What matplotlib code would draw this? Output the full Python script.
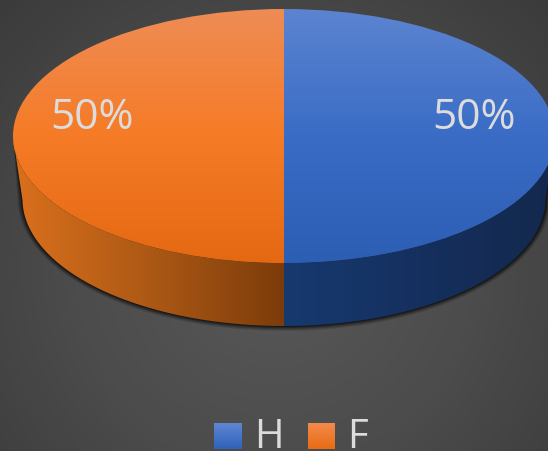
import matplotlib
matplotlib.use("Agg")
import matplotlib.pyplot as plt
from matplotlib.colors import LinearSegmentedColormap
from matplotlib.patches import Polygon, Rectangle
import numpy as np

plt.rcParams['font.family'] = ['Open Sans', 'DejaVu Sans']

categories = ["H", "F"]
shares = [50, 50]

W, H = 548, 452
# pie geometry in pixels
cx, cy, rx, ry, depth = 284, 137, 271, 127, 63
# the lower rim is a bit narrower than the top
rim = 0.965
text_col = "#dcdcdc"

top_colors = [["#5c84d0", "#3a6cc6", "#2c5eb4"], ["#ee8c55", "#f67b26", "#e56913"]]
wall_colors = [["#17396f", "#15305f", "#13284c"], ["#da701d", "#ad5915", "#7c3c0a"]]
legend_colors = [["#5f86d2", "#2f62ba"], ["#f28a4c", "#e96c14"]]

fig = plt.figure(figsize=(W / 100, H / 100), dpi=100)

# background
bg = fig.add_axes([0, 0, 1, 1])
bg.axis("off")
yy, xx = np.mgrid[0:H, 0:W]
dist = np.hypot((xx - 274) / 274, (yy - 270) / 270)
bg_cmap = LinearSegmentedColormap.from_list("bg", ["#585858", "#4c4c4c", "#3a3a3a"])
bg.imshow(dist, cmap=bg_cmap, vmin=0, vmax=1.45, aspect="auto")

# unit circle squashed to the ellipse, axes covers the whole figure
ax = fig.add_axes([0, 0, 1, 1])
ax.patch.set_alpha(0)
wedges, _ = ax.pie(shares, startangle=90, counterclock=False, radius=1, center=(0, 0),
                   wedgeprops={"facecolor": "none", "edgecolor": "none"})
ax.set_aspect("auto")
ax.axis("off")
d = depth / ry
extent = [-cx / rx, (W - cx) / rx, (cy - H) / ry, cy / ry]


def wall_shape(w, grow=0):
    t = np.radians(np.linspace(w.theta1, w.theta2, 200))
    t = t[np.sin(t) <= 0]
    x, y = np.cos(t), np.sin(t)
    low_x = x * (rim + grow / rx)
    low_y = y * (1 + grow / ry) - d
    return np.r_[x, low_x[::-1]], np.r_[y, low_y[::-1]]


# soft shadow under the side
for grow, a in [(5, 0.10), (4, 0.14), (3, 0.18), (2, 0.25), (1, 0.35)]:
    for w in wedges:
        px, py = wall_shape(w, grow)
        ax.add_patch(Polygon(np.c_[px, py], closed=True,
                             fc="black", ec="none", alpha=a, zorder=1))

for i, w in enumerate(wedges):
    # side wall, shaded left to right
    px, py = wall_shape(w)
    wall = Polygon(np.c_[px, py], closed=True, fc="none", ec="none", zorder=2)
    ax.add_patch(wall)
    cmap = LinearSegmentedColormap.from_list("wall%d" % i, wall_colors[i])
    grad = np.linspace(0, 1, 256)[None, :]
    im = ax.imshow(grad, cmap=cmap, aspect="auto", zorder=2,
                   extent=[px.min(), px.max(), py.min(), py.max()])
    im.set_clip_path(wall)

    # top face, shaded top to bottom
    w.set_zorder(3)
    cmap = LinearSegmentedColormap.from_list("top%d" % i, top_colors[i])
    grad = np.linspace(0, 1, 256)[:, None]
    im = ax.imshow(grad, cmap=cmap, aspect="auto", zorder=3, extent=[-1, 1, -1, 1])
    im.set_clip_path(w)

ax.set_xlim(extent[0], extent[1])
ax.set_ylim(extent[2], extent[3])

# percent labels
for x, share in zip([0.70, -0.71], shares):
    ax.text(x, 0.148, "%d%%" % share, color=text_col, fontsize=30.5,
            ha="center", va="center", zorder=5)

# legend
leg = fig.add_axes([0, 0, 1, 1])
leg.axis("off")
leg.patch.set_alpha(0)
for i, (name, x0, w0, tx) in enumerate(zip(categories, [214, 308], [28, 27], [254, 347])):
    r = Rectangle((x0, 424), w0, 26, fc="none", ec="none")
    leg.add_patch(r)
    cmap = LinearSegmentedColormap.from_list("leg%d" % i, legend_colors[i])
    im = leg.imshow(np.linspace(0, 1, 64)[:, None], cmap=cmap, aspect="auto",
                    extent=[x0, x0 + w0, 450, 424])
    leg.text(tx, 448, name, color=text_col, fontsize=29, ha="left", va="baseline")
leg.set_xlim(0, W)
leg.set_ylim(H, 0)

fig.savefig("out.png", dpi=100)
